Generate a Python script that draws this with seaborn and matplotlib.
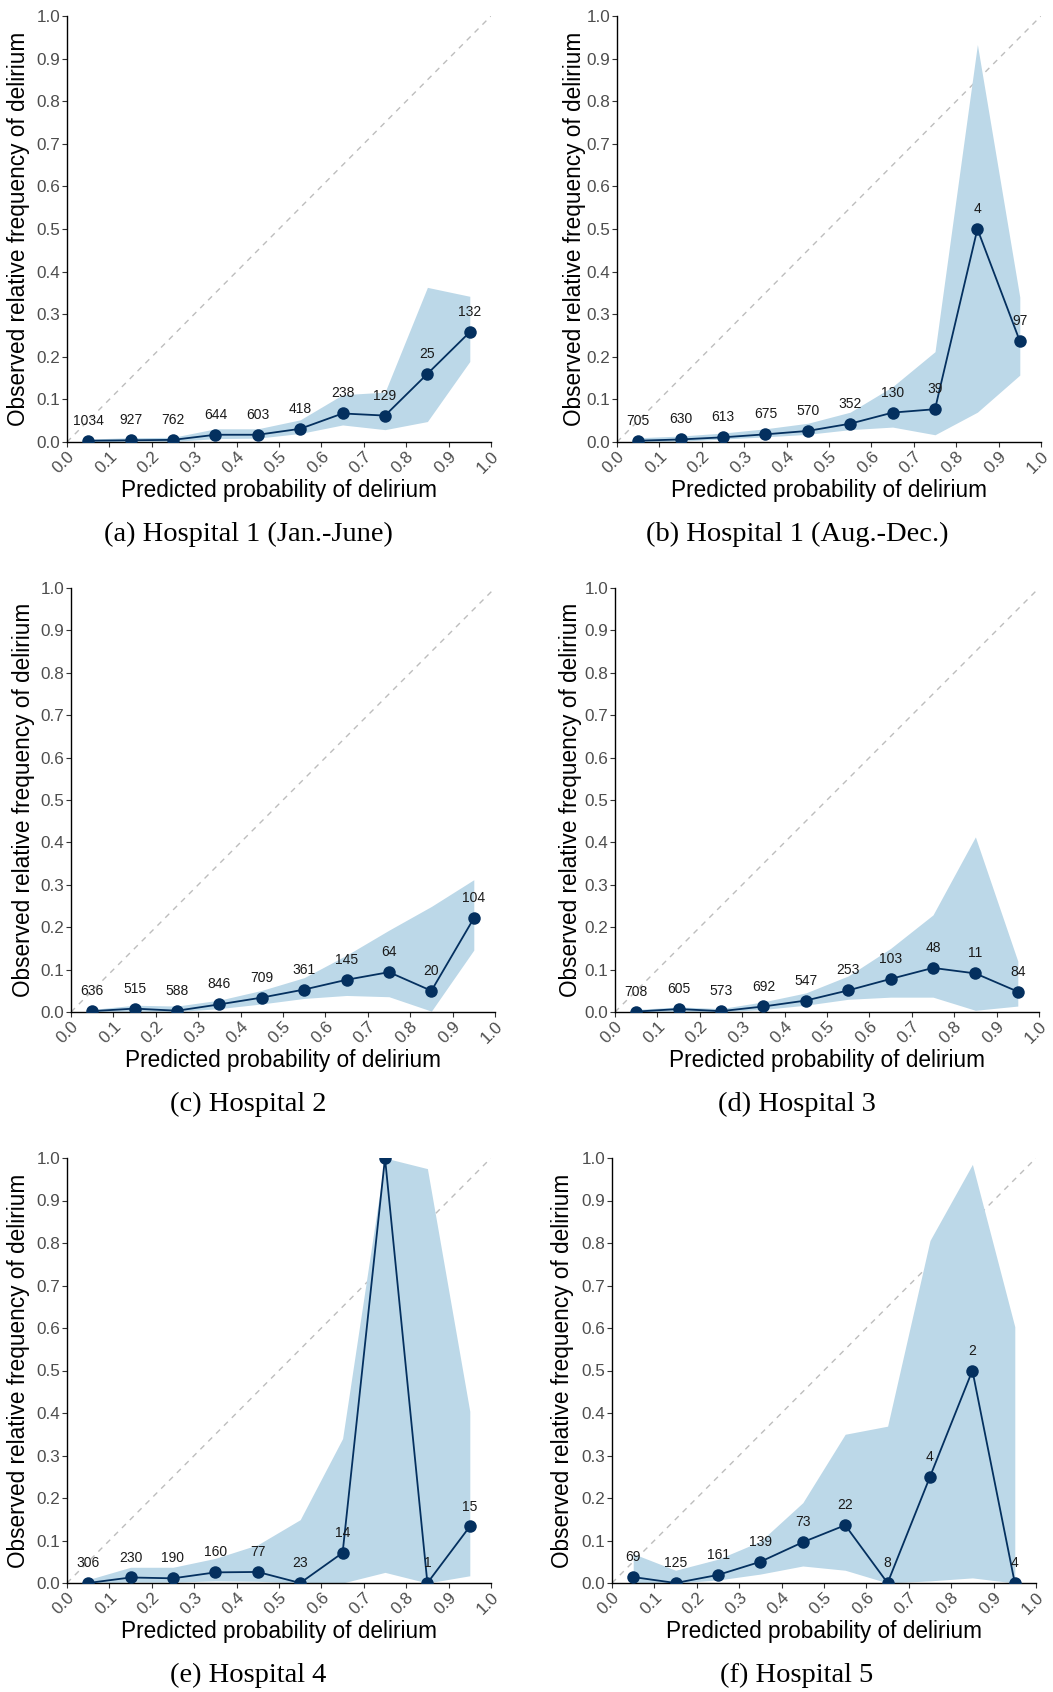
import matplotlib
matplotlib.use("Agg")
import matplotlib.pyplot as plt
import seaborn as sns
import pandas as pd
import numpy as np

sns.set_theme(style="ticks")
plt.rcParams["font.family"] = ["Liberation Sans", "DejaVu Sans"]

# Bin centres of predicted probability
bins = [0.05, 0.15, 0.25, 0.35, 0.45, 0.55, 0.65, 0.75, 0.85, 0.95]

captions = [
    "(a) Hospital 1 (Jan.-June)",
    "(b) Hospital 1 (Aug.-Dec.)",
    "(c) Hospital 2",
    "(d) Hospital 3",
    "(e) Hospital 4",
    "(f) Hospital 5",
]

# Observed relative frequency per bin
obs_a = [0.003, 0.004, 0.005, 0.017, 0.017, 0.031, 0.067, 0.062, 0.160, 0.258]
obs_b = [0.003, 0.006, 0.011, 0.018, 0.026, 0.043, 0.069, 0.077, 0.500, 0.237]
obs_c = [0.002, 0.008, 0.003, 0.018, 0.034, 0.053, 0.076, 0.094, 0.050, 0.221]
obs_d = [0.001, 0.007, 0.002, 0.013, 0.027, 0.051, 0.078, 0.104, 0.091, 0.048]
obs_e = [0.000, 0.013, 0.011, 0.025, 0.026, 0.000, 0.071, 1.000, 0.000, 0.133]
obs_f = [0.014, 0.000, 0.019, 0.050, 0.096, 0.136, 0.000, 0.250, 0.500, 0.000]

# Lower / upper bounds of the confidence band
lo_a = [0.000, 0.002, 0.001, 0.008, 0.009, 0.020, 0.040, 0.029, 0.048, 0.189]
hi_a = [0.007, 0.010, 0.011, 0.031, 0.031, 0.052, 0.111, 0.117, 0.363, 0.342]
lo_b = [0.000, 0.002, 0.007, 0.012, 0.018, 0.029, 0.035, 0.017, 0.070, 0.157]
hi_b = [0.010, 0.014, 0.021, 0.031, 0.044, 0.070, 0.130, 0.212, 0.933, 0.340]
lo_c = [0.000, 0.002, 0.001, 0.008, 0.019, 0.032, 0.039, 0.036, 0.002, 0.146]
hi_c = [0.006, 0.016, 0.014, 0.028, 0.051, 0.081, 0.134, 0.193, 0.249, 0.312]
lo_d = [0.000, 0.002, 0.000, 0.006, 0.016, 0.030, 0.035, 0.035, 0.004, 0.014]
hi_d = [0.006, 0.012, 0.008, 0.024, 0.045, 0.085, 0.150, 0.229, 0.413, 0.120]
lo_e = [0.000, 0.002, 0.002, 0.005, 0.004, 0.000, 0.000, 0.025, 0.000, 0.017]
hi_e = [0.008, 0.037, 0.037, 0.058, 0.090, 0.149, 0.340, 1.000, 0.975, 0.404]
lo_f = [0.000, 0.000, 0.007, 0.021, 0.040, 0.030, 0.000, 0.005, 0.012, 0.000]
hi_f = [0.069, 0.030, 0.056, 0.098, 0.189, 0.350, 0.369, 0.806, 0.985, 0.603]

# Number of patients per bin
n_a = [1034, 927, 762, 644, 603, 418, 238, 129, 25, 132]
n_b = [705, 630, 613, 675, 570, 352, 130, 39, 4, 97]
n_c = [636, 515, 588, 846, 709, 361, 145, 64, 20, 104]
n_d = [708, 605, 573, 692, 547, 253, 103, 48, 11, 84]
n_e = [306, 230, 190, 160, 77, 23, 14, 1, 1, 15]
n_f = [69, 125, 161, 139, 73, 22, 8, 4, 2, 4]

panels = [
    (obs_a, lo_a, hi_a, n_a),
    (obs_b, lo_b, hi_b, n_b),
    (obs_c, lo_c, hi_c, n_c),
    (obs_d, lo_d, hi_d, n_d),
    (obs_e, lo_e, hi_e, n_e),
    (obs_f, lo_f, hi_f, n_f),
]

W, H = 1053, 1692
fig = plt.figure(figsize=(W / 100, H / 100), dpi=100)

# axes boxes in pixels: left, top, width, height
boxes = [
    (67, 16, 424, 426), (617, 16, 424, 426),
    (71, 588, 424, 424), (615, 588, 424, 424),
    (67, 1158, 424, 425), (612, 1158, 424, 425),
]
ylab_px = [19, 574, 24, 570, 19, 563]
cap_x = [248, 797]

NAVY = "#04305f"
BAND = "#bcd8e8"

for i, ((obs, lo, hi, n), (l, t, w, h)) in enumerate(zip(panels, boxes)):
    ax = fig.add_axes([l / W, 1 - (t + h) / H, w / W, h / H])
    df = pd.DataFrame({"pred": bins, "obs": obs, "lo": lo, "hi": hi, "n": n})

    ax.plot([0, 1], [0, 1], ls=(0, (4, 4)), color="#bdbdbd", lw=1.0, zorder=1)
    ax.fill_between(df["pred"], df["lo"], df["hi"], color=BAND, lw=0, zorder=2)
    sns.lineplot(data=df, x="pred", y="obs", ax=ax, color=NAVY, lw=1.3,
                 marker="o", markersize=9, markeredgewidth=0,
                 markerfacecolor=NAVY, zorder=3)
    for _, r in df.iterrows():
        ax.text(r["pred"], r["obs"] + 0.047, f"{int(r['n'])}", ha="center",
                va="center", fontsize=10, color="#1a1a1a", clip_on=True, zorder=4)

    ax.set_xlim(0, 1)
    ax.set_ylim(0, 1)
    ticks = np.round(np.arange(0, 1.01, 0.1), 1)
    ax.set_xticks(ticks)
    ax.set_yticks(ticks)
    ax.set_xticklabels([f"{v:.1f}" for v in ticks], rotation=45, ha="right",
                       va="top", rotation_mode="anchor")
    ax.set_yticklabels([f"{v:.1f}" for v in ticks])
    ax.tick_params(axis="both", length=3.5, width=0.8, color="#333333",
                   labelsize=12.3, labelcolor="#4d4d4d", pad=1.5)
    sns.despine(ax=ax)
    for s in ("left", "bottom"):
        ax.spines[s].set_linewidth(1.0)
        ax.spines[s].set_color("black")
    ax.set_xlabel("")
    ax.set_ylabel("")

    # axis titles
    fig.text((l + w / 2) / W, 1 - (t + h + 48) / H, "Predicted probability of delirium",
             ha="center", va="center", fontsize=16.3, color="black")
    fig.text(ylab_px[i] / W, 1 - (t + h / 2) / H, "Observed relative frequency of delirium",
             ha="center", va="center", rotation=90, fontsize=16.3, color="black")

    # subfigure caption
    cy = t + h + 92
    fig.text(cap_x[i % 2] / W, 1 - cy / H, captions[i], ha="center", va="center",
             fontsize=20.5, family="Liberation Serif", color="black")

fig.savefig("out.png", dpi=100, facecolor="white")
